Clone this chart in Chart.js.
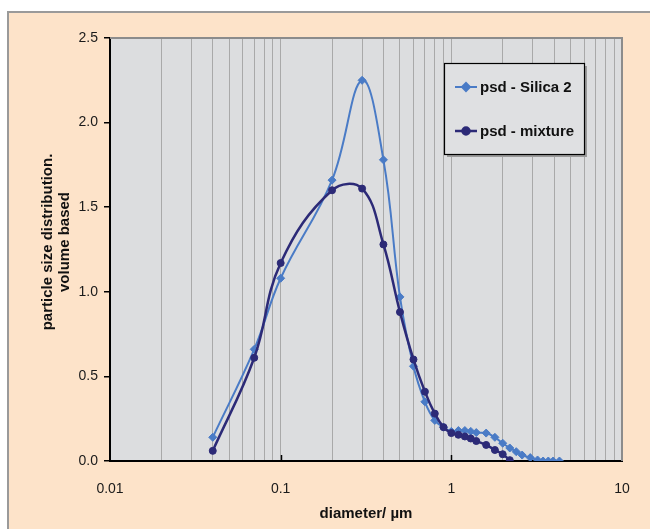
<!DOCTYPE html>
<html>
<head>
<meta charset="utf-8">
<script src="https://cdn.jsdelivr.net/npm/chart.js@4"></script>
<style>
  html, body { margin: 0; padding: 0; background: #fff; }
  #frame {
    position: absolute; left: 7px; top: 11px; width: 643px; height: 518px;
    background: #FDE3C9; border-left: 2px solid #9a9a9a; border-top: 2px solid #9a9a9a;
  }
  #wrap { position: absolute; left: 0; top: 0; width: 650px; height: 529px; }
</style>
</head>
<body>
<div id="frame"></div>
<div id="wrap"><canvas id="myChart" width="650" height="529"></canvas></div>
<script>
// values
const silicaX = [0.04, 0.07, 0.1, 0.2, 0.3, 0.4, 0.5, 0.6, 0.7, 0.8, 0.9, 1.0, 1.1, 1.2, 1.3, 1.4, 1.6, 1.8, 2.0, 2.2, 2.4, 2.6, 2.9, 3.2, 3.45, 3.7, 3.95, 4.3];
const silicaY = [0.14, 0.66, 1.08, 1.66, 2.25, 1.78, 0.97, 0.56, 0.35, 0.24, 0.20, 0.175, 0.18, 0.18, 0.175, 0.168, 0.165, 0.14, 0.105, 0.077, 0.055, 0.035, 0.02, 0.006, 0.0, 0.0, 0.0, 0.0];
const mixtureX = [0.04, 0.07, 0.1, 0.2, 0.3, 0.4, 0.5, 0.6, 0.7, 0.8, 0.9, 1.0, 1.1, 1.2, 1.3, 1.4, 1.6, 1.8, 2.0, 2.2];
const mixtureY = [0.06, 0.61, 1.17, 1.60, 1.61, 1.28, 0.88, 0.60, 0.41, 0.28, 0.20, 0.165, 0.155, 0.145, 0.133, 0.118, 0.095, 0.065, 0.04, 0.005];

const seriesNames = ['psd - Silica 2', 'psd - mixture'];
const xMajorValues = [0.01, 0.1, 1, 10];
const xTickLabels = ['0.01', '0.1', '1', '10'];
const yTickLabels = ['0.0', '0.5', '1.0', '1.5', '2.0', '2.5'];
const yTitle = ['particle size distribution.', 'volume based'];
const xTitle = 'diameter/ \u00b5m';

const silicaColor = '#4A7BC6';
const mixtureColor = '#2C2A77';
const FONT = '"Liberation Sans", Arial, sans-serif';

// minor gridlines 1..9 per decade
const gridValues = [];
xMajorValues.forEach((v, i) => {
    if (i === xMajorValues.length - 1) { gridValues.push(v); return; }
    for (let k = 1; k <= 9; k++) gridValues.push(+(v * k).toPrecision(3));
});

const toPoints = (xs, ys) => xs.map((x, i) => ({ x: x, y: ys[i] }));

const decorPlugin = {
    id: 'decor',
    beforeDraw(chart) {
        const { ctx, chartArea: a } = chart;
        ctx.save();
        ctx.fillStyle = '#DCDDDF';
        ctx.fillRect(a.left, a.top, a.right - a.left, a.bottom - a.top);
        ctx.restore();
    },
    afterDatasetsDraw(chart) {
        const { ctx, chartArea: a, scales } = chart;
        ctx.save();
        // top and right frame of the plot area
        ctx.strokeStyle = '#8c8c8c';
        ctx.lineWidth = 2;
        ctx.beginPath();
        ctx.moveTo(a.left, a.top);
        ctx.lineTo(a.right, a.top);
        ctx.lineTo(a.right, a.bottom);
        ctx.stroke();
        // small inward major ticks on the x axis
        ctx.strokeStyle = '#000';
        ctx.lineWidth = 1.5;
        xMajorValues.slice(1, -1).forEach(v => {
            const px = Math.round(scales.x.getPixelForValue(v)) + 0.5;
            ctx.beginPath();
            ctx.moveTo(px, a.bottom);
            ctx.lineTo(px, a.bottom - 6);
            ctx.stroke();
        });

        // legend box
        const lx = 444, ly = 63, lw = 140, lh = 91;
        ctx.fillStyle = '#9a9a9a';
        ctx.fillRect(lx + 3, ly + 3, lw, lh);
        ctx.fillStyle = '#DFE0E2';
        ctx.fillRect(lx, ly, lw, lh);
        ctx.strokeStyle = '#000';
        ctx.lineWidth = 1.2;
        ctx.strokeRect(lx + 0.5, ly + 0.5, lw, lh);
        const rows = [
            { y: 87, color: silicaColor, style: 'rectRot', r: 4, w: 2 },
            { y: 131, color: mixtureColor, style: 'circle', r: 3.5, w: 2.5 }
        ];
        rows.forEach((row, i) => {
            ctx.strokeStyle = row.color;
            ctx.lineWidth = row.w;
            ctx.beginPath();
            ctx.moveTo(455, row.y);
            ctx.lineTo(477, row.y);
            ctx.stroke();
            ctx.fillStyle = row.color;
            Chart.helpers.drawPoint(ctx, { pointStyle: row.style, radius: row.r, borderWidth: 1 }, 466, row.y);
            ctx.fillStyle = '#111';
            ctx.font = 'bold 15px ' + FONT;
            ctx.textAlign = 'left';
            ctx.textBaseline = 'middle';
            ctx.fillText(seriesNames[i], 480, row.y + 1);
        });

        // axis titles
        ctx.fillStyle = '#111';
        ctx.font = 'bold 15px ' + FONT;
        ctx.textAlign = 'center';
        ctx.textBaseline = 'middle';
        ctx.fillText(xTitle, (a.left + a.right) / 2, 514);
        ctx.translate(48, 242);
        ctx.rotate(-Math.PI / 2);
        ctx.fillText(yTitle[0], 0, 0);
        ctx.fillText(yTitle[1], 0, 17);
        ctx.restore();
    }
};

const ctx = document.getElementById('myChart').getContext('2d');
new Chart(ctx, {
    type: 'line',
    data: {
        datasets: [{
            label: seriesNames[0],
            data: toPoints(silicaX, silicaY),
            borderColor: silicaColor,
            backgroundColor: silicaColor,
            borderWidth: 2,
            pointStyle: 'rectRot',
            pointRadius: 4,
            pointBorderWidth: 1,
            tension: 0.4,
            order: 2
        }, {
            label: seriesNames[1],
            data: toPoints(mixtureX, mixtureY),
            borderColor: mixtureColor,
            backgroundColor: mixtureColor,
            borderWidth: 2.5,
            pointStyle: 'circle',
            pointRadius: 3.5,
            pointBorderWidth: 1,
            tension: 0.4,
            order: 1
        }]
    },
    options: {
        responsive: false,
        animation: false,
        layout: { padding: { left: 0, top: 38, right: 28, bottom: 0 } },
        plugins: { legend: { display: false }, tooltip: { enabled: false } },
        elements: { line: { capBezierPoints: true } },
        scales: {
            x: {
                type: 'logarithmic',
                min: 0.01,
                max: 10,
                afterFit(scale) { scale.height = 68; },
                afterBuildTicks(scale) {
                    scale.ticks = gridValues.map(v => ({ value: v, major: xMajorValues.includes(v) }));
                },
                ticks: {
                    autoSkip: false,
                    maxRotation: 0,
                    padding: 20,
                    color: '#1a1a1a',
                    font: { family: FONT, size: 14 },
                    callback(value) {
                        const i = xMajorValues.indexOf(value);
                        return i >= 0 ? xTickLabels[i] : '';
                    }
                },
                grid: { color: '#A9A9A9', lineWidth: 1, drawTicks: false },
                border: { color: '#000', width: 2 }
            },
            y: {
                min: 0,
                max: 2.5,
                afterFit(scale) { scale.width = 110; },
                ticks: {
                    stepSize: 0.5,
                    padding: 6,
                    color: '#1a1a1a',
                    font: { family: FONT, size: 14 },
                    callback(value, index) { return yTickLabels[index]; }
                },
                grid: { drawOnChartArea: false, drawTicks: true, tickLength: 6, color: '#000', lineWidth: 1.5 },
                border: { color: '#000', width: 2 }
            }
        }
    },
    plugins: [decorPlugin]
});
</script>
</body>
</html>
